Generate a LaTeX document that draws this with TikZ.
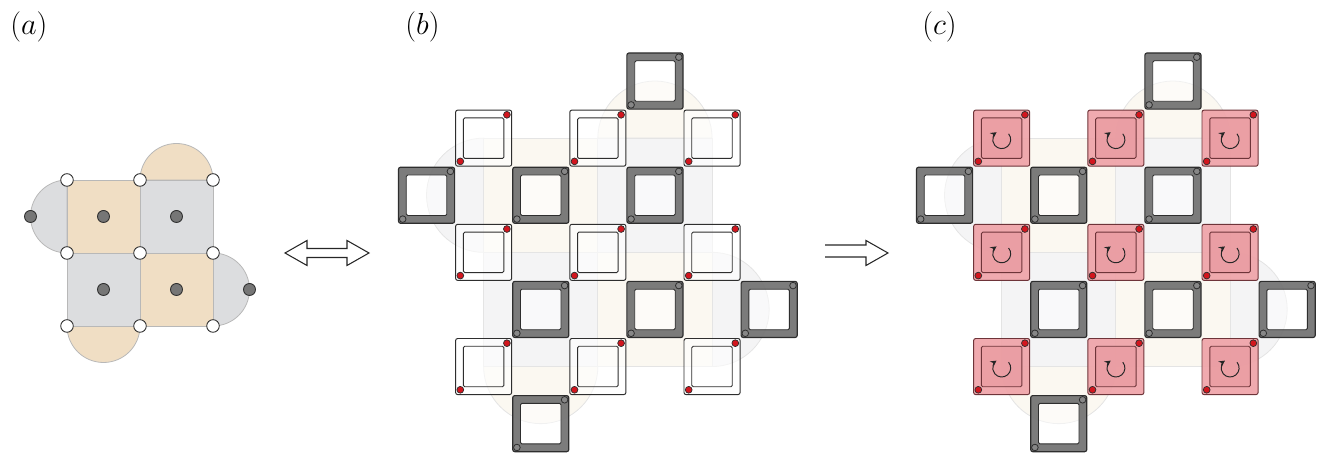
\documentclass[tikz,border=0pt]{standalone}
\usetikzlibrary{arrows.meta}

\definecolor{tanfill}{HTML}{F0DEC4}
\definecolor{greyfill}{HTML}{DCDDDF}
\definecolor{rimgrey}{HTML}{B8B8B8}
\definecolor{tanpale}{HTML}{FBF8F1}
\definecolor{greypale}{HTML}{F4F4F5}
\definecolor{rimpale}{HTML}{E4E4E4}
\definecolor{framegrey}{HTML}{727272}
\definecolor{inkline}{HTML}{2E2E2E}
\definecolor{dotred}{HTML}{D2161E}
\definecolor{dotgrey}{HTML}{767676}
\definecolor{pinkfill}{HTML}{EFA3A8}
\definecolor{pinkinner}{HTML}{E8989E}
\definecolor{pinkline}{HTML}{6E3439}

\tikzset{
  x=0.2mm, y=-0.2mm,
  plaq/.style={draw=rimgrey, line width=0.45pt},
  paleplaq/.style={draw=rimpale, line width=0.45pt},
  vertexdot/.style={draw=inkline, line width=0.5pt, fill=white},
  centredot/.style={draw=inkline, line width=0.5pt, fill=dotgrey},
  hollowarrow/.style={draw=black!85, line width=0.6pt, line join=miter},
  panellabel/.style={anchor=base west, inner sep=0pt, font=\fontsize{17.5pt}{20pt}\selectfont},
  % thick grey frame tile
  darktile/.pic={
    \fill[framegrey, fill opacity=0.93, even odd rule, rounded corners=1.2pt]
      (0.5,0.5) rectangle (56.6,56.6) (8.3,8.3) rectangle (48.8,48.8);
    \fill[white, fill opacity=0.5, rounded corners=0.8pt] (8.3,8.3) rectangle (48.8,48.8);
    \draw[inkline, line width=0.65pt, rounded corners=1.2pt] (0.5,0.5) rectangle (56.6,56.6);
    \draw[inkline, line width=0.5pt, rounded corners=0.8pt] (8.3,8.3) rectangle (48.8,48.8);
    \filldraw[fill=framegrey!85!white, draw=inkline, line width=0.45pt] (52.4,4.7) circle [radius=3.3];
    \filldraw[fill=framegrey!85!white, draw=inkline, line width=0.45pt] (4.7,52.4) circle [radius=3.3];
  },
  % thin open tile with two red corner dots
  whitetile/.pic={
    \filldraw[fill=white, fill opacity=0.6, draw=inkline, line width=0.55pt, rounded corners=1.2pt]
      (0.5,0.5) rectangle (56.6,56.6);
    \draw[inkline, line width=0.5pt, rounded corners=0.8pt]
      (8.3,8.3) rectangle (48.8,48.8);
    \filldraw[fill=dotred, draw=inkline, line width=0.4pt] (51.8,5.2) circle [radius=3.4];
    \filldraw[fill=dotred, draw=inkline, line width=0.4pt] (5.2,51.8) circle [radius=3.4];
  },
  % red tile carrying a rotation mark
  pinktile/.pic={
    \filldraw[fill=pinkfill, fill opacity=0.92, draw=pinkline, line width=0.55pt, rounded corners=1.2pt]
      (0.5,0.5) rectangle (56.6,56.6);
    \filldraw[fill=pinkinner, fill opacity=0.6, draw=pinkline, line width=0.5pt, rounded corners=0.8pt]
      (8.3,8.3) rectangle (48.8,48.8);
    \draw[black!85, line width=0.55pt, -{Stealth[length=3.4pt,width=3.6pt]}]
      (28.6,30) ++(-40:9) arc[start angle=-40, end angle=235, radius=9];
    \filldraw[fill=dotred, draw=inkline, line width=0.4pt] (51.8,5.2) circle [radius=3.4];
    \filldraw[fill=dotred, draw=inkline, line width=0.4pt] (5.2,51.8) circle [radius=3.4];
  },
  % pale enlarged copy of the plaquette pattern, under the tiles
  plaqueshade/.pic={
    \filldraw[paleplaq, fill=greypale] (1.5*57.1,1.5*57.1)
      arc[start angle=270, end angle=90, radius=57.1] -- cycle;
    \filldraw[paleplaq, fill=tanpale] (3.5*57.1,1.5*57.1)
      arc[start angle=180, end angle=360, radius=57.1] -- cycle;
    \filldraw[paleplaq, fill=greypale] (5.5*57.1,3.5*57.1)
      arc[start angle=-90, end angle=90, radius=57.1] -- cycle;
    \filldraw[paleplaq, fill=tanpale] (1.5*57.1,5.5*57.1)
      arc[start angle=180, end angle=0, radius=57.1] -- cycle;
    \filldraw[paleplaq, fill=tanpale] (1.5*57.1,1.5*57.1) rectangle (3.5*57.1,3.5*57.1);
    \filldraw[paleplaq, fill=greypale] (3.5*57.1,1.5*57.1) rectangle (5.5*57.1,3.5*57.1);
    \filldraw[paleplaq, fill=greypale] (1.5*57.1,3.5*57.1) rectangle (3.5*57.1,5.5*57.1);
    \filldraw[paleplaq, fill=tanpale] (3.5*57.1,3.5*57.1) rectangle (5.5*57.1,5.5*57.1);
  },
}

\begin{document}
\begin{tikzpicture}
\useasboundingbox (0,0) rectangle (1319,453);

% ---------- (a) plaquettes with half discs ----------
\filldraw[plaq, fill=greyfill] (67,180) arc[start angle=270, end angle=90, radius=36.5] -- cycle;
\filldraw[plaq, fill=tanfill] (140,180) arc[start angle=180, end angle=360, radius=36.5] -- cycle;
\filldraw[plaq, fill=greyfill] (213,253) arc[start angle=-90, end angle=90, radius=36.5] -- cycle;
\filldraw[plaq, fill=tanfill] (67,326) arc[start angle=180, end angle=0, radius=36.5] -- cycle;
\filldraw[plaq, fill=tanfill] (67,180) rectangle (140,253);
\filldraw[plaq, fill=greyfill] (140,180) rectangle (213,253);
\filldraw[plaq, fill=greyfill] (67,253) rectangle (140,326);
\filldraw[plaq, fill=tanfill] (140,253) rectangle (213,326);

\foreach \cx/\cy in {103.5/216.5, 176.5/216.5, 103.5/289.5, 176.5/289.5, 30.5/216.5, 249.5/289.5}
  \filldraw[centredot] (\cx,\cy) circle [radius=6];
\foreach \vx in {67,140,213}
  \foreach \vy in {180,253,326}
    \filldraw[vertexdot] (\vx,\vy) circle [radius=6.3];

% ---------- arrows between panels ----------
\draw[hollowarrow] (285,253) -- (307,240.5) -- (307,248.5) -- (347,248.5) -- (347,240.5)
  -- (369,253) -- (347,265.5) -- (347,257.5) -- (307,257.5) -- (307,265.5) -- cycle;
\draw[hollowarrow] (825,245) -- (866,245) -- (866,240.5) -- (888,253) -- (866,265.5)
  -- (866,257) -- (825,257);

% ---------- (b) tiles ----------
\begin{scope}[shift={(398,52.5)}]
  \pic at (0,0) {plaqueshade};
  \foreach \c/\r in {4/0, 0/2, 2/2, 4/2, 2/4, 4/4, 6/4, 2/6}
    \pic at ({\c*57.1},{\r*57.1}) {darktile};
  \foreach \c/\r in {1/1, 3/1, 5/1, 1/3, 3/3, 5/3, 1/5, 3/5, 5/5}
    \pic at ({\c*57.1},{\r*57.1}) {whitetile};
\end{scope}

% ---------- (c) tiles ----------
\begin{scope}[shift={(916,52.5)}]
  \pic at (0,0) {plaqueshade};
  \foreach \c/\r in {4/0, 0/2, 2/2, 4/2, 2/4, 4/4, 6/4, 2/6}
    \pic at ({\c*57.1},{\r*57.1}) {darktile};
  \foreach \c/\r in {1/1, 3/1, 5/1, 1/3, 3/3, 5/3, 1/5, 3/5, 5/5}
    \pic at ({\c*57.1},{\r*57.1}) {pinktile};
\end{scope}

% ---------- panel labels ----------
\node[panellabel] (la) at (10,35) {$(a)$};
\node[panellabel] (lb) at (405,35) {$(b)$};
\node[panellabel] (lc) at (922,35) {$(c)$};
\end{tikzpicture}
\end{document}
